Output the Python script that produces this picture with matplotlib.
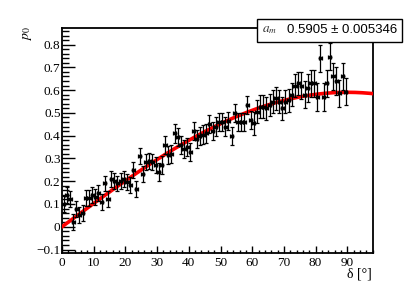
import numpy as np
import matplotlib.pyplot as plt
from matplotlib.ticker import MultipleLocator

# measured points (delta in degrees, p0)
delta = np.arange(90) + 0.5
p0 = [0.10, 0.14, 0.12, 0.02, 0.08, 0.05, 0.06, 0.125, 0.125, 0.14,
      0.13, 0.15, 0.11, 0.19, 0.12, 0.21, 0.20, 0.19, 0.20, 0.21,
      0.195, 0.185, 0.25, 0.165, 0.31, 0.23, 0.285, 0.29, 0.285, 0.27,
      0.24, 0.27, 0.36, 0.315, 0.32, 0.41, 0.395, 0.36, 0.34, 0.35,
      0.33, 0.42, 0.385, 0.40, 0.405, 0.41, 0.45, 0.42, 0.44, 0.46,
      0.46, 0.44, 0.465, 0.40, 0.50, 0.46, 0.46, 0.46, 0.535, 0.47,
      0.455, 0.505, 0.527, 0.527, 0.52, 0.535, 0.55, 0.564, 0.55, 0.52,
      0.55, 0.555, 0.58, 0.62, 0.63, 0.62, 0.58, 0.61, 0.63, 0.63,
      0.57, 0.74, 0.57, 0.63, 0.747, 0.66, 0.64, 0.586, 0.66, 0.593]
p0_err = [0.035] * 30 + [0.04] * 30 + [0.05] * 15 + [0.06] * 15
delta_err = 0.5

# fit result
a_m = 0.5905
a_m_err = 0.005346

fig = plt.figure(figsize=(4.15, 2.81), dpi=100)
ax = fig.add_axes([0.1494, 0.1007, 0.7486, 0.7997])

xfit = np.linspace(0, 98, 300)
ax.plot(xfit, a_m * np.sin(np.radians(xfit)), color='#ff0000', lw=2.6, zorder=3)
ax.errorbar(delta, p0, yerr=p0_err, xerr=delta_err, fmt='o', ms=1.8,
            color='black', ecolor='black', elinewidth=0.9, capsize=1.5,
            capthick=0.9, zorder=4)

ax.set_xlim(0, 98)
ax.set_ylim(-0.114, 0.873)
ax.xaxis.set_major_locator(MultipleLocator(10))
ax.xaxis.set_minor_locator(MultipleLocator(2))
ax.yaxis.set_major_locator(MultipleLocator(0.1))
ax.yaxis.set_minor_locator(MultipleLocator(0.02))
ax.tick_params(which='both', direction='in', top=False, right=False, width=1.0)
ax.tick_params(axis='y', which='major', length=9)
ax.tick_params(axis='y', which='minor', length=5)
ax.tick_params(axis='x', which='major', length=5)
ax.tick_params(axis='x', which='minor', length=2.5)
ax.set_yticks([-0.1, 0, 0.1, 0.2, 0.3, 0.4, 0.5, 0.6, 0.7, 0.8])
ax.set_yticklabels(['\u22120.1', '0', '0.1', '0.2', '0.3', '0.4', '0.5', '0.6', '0.7', '0.8'])
ax.set_xticks(range(0, 100, 10))
ax.set_xticklabels([str(v) for v in range(0, 100, 10)])
for lab in ax.get_xticklabels() + ax.get_yticklabels():
    lab.set_family('Liberation Serif')
    lab.set_fontsize(9.5)
ax.tick_params(axis='y', pad=1)
ax.tick_params(axis='x', pad=3)
for s in ax.spines.values():
    s.set_linewidth(1.3)

fig.text(27 / 415, 1 - 34 / 281, r'$p_{0}$', rotation=90, ha='center', va='center',
         fontsize=10, family='serif', math_fontfamily='stix')
fig.text(372 / 415, 1 - 274 / 281, '\u03b4 [\u00b0]', ha='right', va='center',
         fontsize=10, family='Liberation Serif')

# fit parameter box
bx0, by0, bw, bh = 257 / 415, 1 - 41.5 / 281, 145 / 415, 23 / 281
box = plt.Rectangle((bx0, by0), bw, bh, transform=fig.transFigure,
                    facecolor='white', edgecolor='black', lw=1.0, zorder=10)
fig.add_artist(box)
fig.text(270 / 415, by0 + bh / 2, r'$a_{m}$', ha='center', va='center',
         fontsize=9.5, math_fontfamily='stix', color='#333333', zorder=11)
fig.text(397 / 415, by0 + bh / 2, '%.4f \u00b1 %.6f' % (a_m, a_m_err),
         ha='right', va='center', fontsize=9.5, family='Liberation Sans', zorder=11)

fig.savefig('out.png', dpi=100)
